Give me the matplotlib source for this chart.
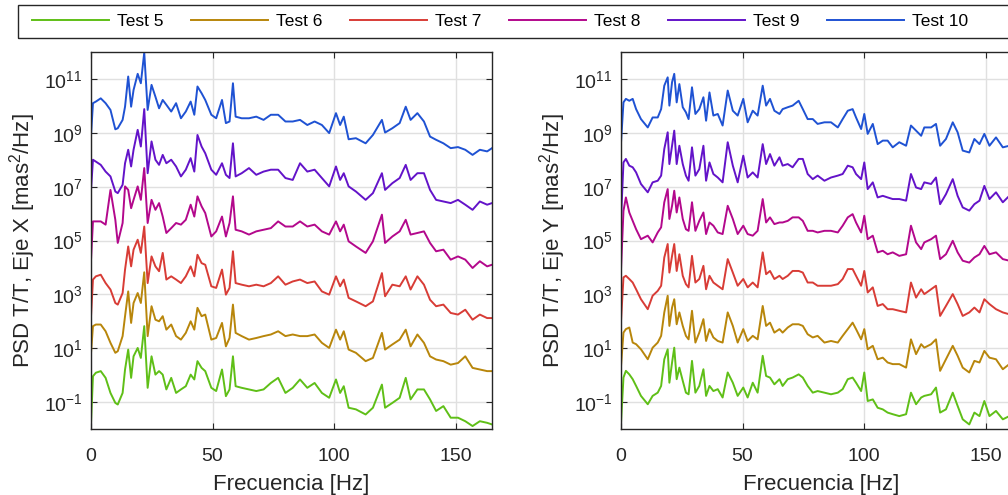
import numpy as np
import matplotlib
matplotlib.use("Agg")
import matplotlib.pyplot as plt
from matplotlib.patches import Rectangle

plt.rcParams["font.family"] = ["Liberation Sans", "DejaVu Sans"]
plt.rcParams["mathtext.fontset"] = "custom"
plt.rcParams["mathtext.rm"] = "Liberation Sans"
plt.rcParams["mathtext.default"] = "regular"

# Frecuencias (Hz) muestreadas de la figura, eje X
freq_x = [0, 0.8, 2, 4, 6, 8, 10, 11, 13, 14,
          15.3, 16.5, 17.5, 19.2, 20.5, 21.9, 23.3, 24.9, 26.5, 28,
          29.5, 31, 33, 35, 37, 39, 41, 42.5, 43.8, 45.5,
          47, 49.5, 51.5, 53.9, 55.5, 57, 58.4, 59.5, 62, 65,
          68, 71, 74, 77, 80, 83, 86, 89, 92, 95,
          98, 100.8, 102.5, 104, 106, 109, 113, 116, 119.7, 121,
          124, 127, 129.5, 131.5, 134.3, 137, 139.5, 142, 145, 148,
          151, 154, 157, 160, 163, 165]

# log10(PSD), eje X
x_test5 = [-1.77, -0.04, 0.09, 0.15, -0.10, -0.66, -1.03, -1.09, -0.66, 0.21,
           0.95, -0.10, 0.70, 1.01, 0.64, 1.82, -0.47, 0.70, 0.02, 0.15,
           0.02, -0.53, -0.10, -0.66, -0.53, -0.41, 0.02, -0.16, 0.52, 0.27,
           0.15, -0.47, -0.59, 0.21, -0.78, -0.53, 0.70, -0.41, -0.47, -0.53,
           -0.59, -0.53, -0.29, -0.10, -0.66, -0.47, -0.16, -0.47, -0.29, -0.66,
           -0.84, -0.16, -0.66, -0.41, -1.21, -1.27, -1.46, -1.21, -0.35, -1.21,
           -1.03, -0.84, -0.10, -0.90, -0.53, -0.53, -0.90, -1.33, -1.15, -1.58,
           -1.58, -1.71, -1.89, -1.71, -1.77, -1.83]
x_test6 = [0.83, 1.82, 1.88, 1.88, 1.63, 1.20, 0.83, 0.89, 1.45, 2.19,
           3.11, 1.94, 2.68, 3.05, 2.68, 3.82, 1.45, 2.56, 2.06, 2.00,
           2.19, 1.69, 1.88, 1.45, 1.32, 1.57, 2.00, 1.69, 2.50, 2.19,
           2.25, 1.32, 1.38, 1.94, 1.07, 1.38, 2.62, 1.57, 1.45, 1.32,
           1.38, 1.45, 1.51, 1.63, 1.45, 1.51, 1.45, 1.45, 1.51, 1.20,
           1.01, 1.69, 1.32, 1.63, 0.95, 0.83, 0.52, 0.64, 1.57, 0.95,
           1.14, 1.32, 1.69, 1.07, 1.51, 1.20, 0.70, 0.58, 0.52, 0.39,
           0.45, 0.70, 0.27, 0.21, 0.15, 0.15]
x_test7 = [2.19, 3.55, 3.67, 3.73, 3.42, 3.18, 2.68, 2.62, 3.05, 3.92,
           4.78, 4.04, 4.66, 5.03, 4.54, 5.52, 3.42, 4.41, 4.04, 3.86,
           4.54, 3.55, 3.67, 3.55, 3.42, 3.67, 4.04, 3.67, 4.47, 4.16,
           4.10, 3.30, 3.24, 3.92, 2.99, 3.24, 4.60, 3.42, 3.36, 3.30,
           3.36, 3.30, 3.42, 3.67, 3.36, 3.48, 3.55, 3.42, 3.48, 3.11,
           2.99, 3.67, 3.30, 3.55, 2.87, 2.74, 2.56, 2.74, 3.79, 2.93,
           3.36, 3.30, 3.67, 3.18, 3.67, 3.36, 2.80, 2.56, 2.62, 2.31,
           2.25, 2.43, 2.06, 2.25, 2.12, 2.12]
x_test8 = [4.29, 5.71, 5.71, 5.71, 5.59, 6.88, 5.77, 4.91, 5.65, 7.01,
           6.88, 6.20, 6.51, 7.01, 6.51, 7.69, 5.65, 6.51, 6.14, 6.39,
           5.89, 5.28, 5.46, 5.65, 5.59, 5.77, 6.33, 5.89, 6.64, 6.27,
           6.02, 5.15, 5.34, 5.89, 5.15, 5.65, 6.64, 5.40, 5.34, 5.22,
           5.34, 5.40, 5.46, 5.71, 5.52, 5.52, 5.71, 5.52, 5.59, 5.34,
           5.22, 5.71, 5.34, 5.59, 4.97, 4.78, 4.54, 4.97, 5.96, 4.91,
           5.15, 5.34, 5.77, 5.22, 5.28, 5.34, 4.91, 4.60, 4.66, 4.29,
           4.41, 4.29, 3.98, 4.23, 4.04, 4.10]
x_test9 = [6.88, 8.00, 7.93, 7.81, 7.56, 7.38, 6.82, 6.76, 7.07, 7.87,
           8.37, 7.75, 8.37, 9.11, 8.49, 9.88, 7.50, 8.68, 8.00, 7.81,
           8.18, 7.87, 8.00, 7.75, 7.38, 7.63, 8.06, 7.56, 8.92, 8.49,
           8.24, 7.63, 7.44, 7.87, 7.44, 7.32, 8.61, 7.38, 7.50, 7.69,
           7.44, 7.56, 7.63, 7.63, 7.32, 7.25, 7.87, 7.56, 7.63, 7.32,
           7.01, 7.75, 7.25, 7.50, 7.01, 6.82, 6.51, 6.76, 7.50, 6.88,
           7.13, 7.32, 7.81, 7.25, 7.50, 7.50, 6.88, 6.51, 6.45, 6.39,
           6.51, 6.33, 6.14, 6.45, 6.33, 6.39]
x_test10 = [8.92, 10.10, 10.16, 10.28, 10.10, 9.85, 9.13, 9.17, 9.48, 9.97,
            11.09, 9.97, 10.59, 11.19, 10.84, 11.98, 9.85, 10.78, 10.34, 9.91,
            10.22, 10.04, 9.79, 10.10, 9.54, 9.79, 10.16, 9.67, 10.72, 10.47,
            10.22, 9.67, 9.54, 10.22, 9.36, 9.42, 10.84, 9.60, 9.54, 9.54,
            9.60, 9.48, 9.67, 9.67, 9.42, 9.42, 9.48, 9.29, 9.42, 9.29,
            8.99, 9.73, 9.29, 9.60, 8.76, 8.80, 8.61, 8.92, 9.48, 9.01,
            9.17, 9.36, 9.97, 9.48, 9.73, 9.42, 8.86, 8.74, 8.61, 8.43,
            8.47, 8.37, 8.18, 8.37, 8.31, 8.43]

# Frecuencias (Hz), eje Y
freq_y = [0, 1, 2, 3.4, 4.8, 6.2, 8.2, 11, 13, 15.1,
          16.5, 17.8, 19.2, 19.9, 21, 21.9, 22.9, 24, 25.4, 26.7,
          27.8, 29.2, 30.6, 32.2, 33.9, 35, 36.4, 38, 39.8, 41.8,
          43.9, 46, 48, 50.3, 52.1, 54.2, 56.2, 58.3, 59.7, 61.3,
          63.1, 65.2, 66.5, 68.6, 70.6, 73.1, 74.8, 76.8, 78.9, 80.9,
          83.7, 86.4, 89.2, 91.2, 93.3, 95.3, 96.7, 98.8, 100.1, 101.5,
          103.6, 105.6, 107.7, 109.7, 111.8, 114.5, 117.3, 119.3, 121.4, 123.5,
          124.8, 127.6, 129.6, 131.3, 133.7, 136.5, 138.5, 140.6, 143.3, 145.4,
          147.5, 149.5, 151.6, 154.3, 157.1, 159.8, 165]

y_test5 = [-1.76, -0.09, 0.16, 0.03, -0.15, -0.40, -0.77, -1.08, -0.77, -0.65,
           -0.40, 0.59, 0.96, -0.28, 0.47, 1.02, -0.15, 0.28, -0.21, -0.65,
           -0.71, 0.53, -0.65, -0.40, 0.22, -0.77, -0.40, -0.59, -0.52, -0.83,
           0.10, -0.28, -0.77, -0.46, -0.83, -0.28, -0.65, 0.72, -0.03, -0.09,
           -0.34, -0.15, -0.40, -0.15, -0.09, 0.03, -0.09, -0.40, -0.65, -0.59,
           -0.65, -0.71, -0.65, -0.52, -0.15, -0.09, -0.28, -0.59, 0.10, -0.96,
           -0.90, -1.21, -1.27, -1.39, -1.45, -1.52, -1.45, -0.65, -1.08, -0.83,
           -0.77, -0.71, -0.46, -1.39, -1.27, -0.65, -1.14, -1.64, -1.83, -1.39,
           -1.52, -0.96, -1.52, -1.33, -1.64, -1.52, -1.58]
y_test6 = [0.34, 1.58, 1.71, 1.77, 1.21, 1.15, 0.96, 0.59, 1.02, 1.21,
           1.46, 2.33, 2.95, 1.83, 2.51, 2.82, 1.89, 2.33, 1.83, 1.46,
           1.33, 2.39, 1.21, 1.58, 2.08, 1.27, 1.71, 1.40, 1.27, 1.21,
           2.33, 1.83, 1.21, 1.71, 1.27, 1.46, 1.33, 2.57, 1.83, 1.95,
           1.58, 1.71, 1.58, 1.77, 1.89, 1.89, 1.83, 1.52, 1.40, 1.46,
           1.21, 1.27, 1.21, 1.46, 1.71, 1.95, 1.71, 1.33, 1.71, 0.96,
           1.09, 0.59, 0.65, 0.47, 0.41, 0.41, 0.28, 1.33, 0.78, 1.15,
           1.02, 1.15, 1.33, 0.16, 0.59, 1.09, 0.72, 0.28, 0.10, 0.53,
           0.47, 0.90, 0.65, 0.59, 0.22, 0.41, 0.34]
y_test7 = [2.02, 3.63, 3.69, 3.57, 3.44, 3.19, 2.82, 2.45, 2.95, 3.13,
           3.32, 4.37, 4.87, 3.81, 4.43, 4.87, 3.87, 4.49, 3.69, 3.38,
           3.26, 4.43, 3.44, 3.57, 4.06, 3.19, 3.69, 3.44, 3.32, 3.19,
           4.31, 3.81, 3.32, 3.57, 3.26, 3.44, 3.26, 4.56, 3.75, 3.87,
           3.57, 3.69, 3.57, 3.69, 3.87, 3.87, 3.81, 3.44, 3.44, 3.32,
           3.32, 3.32, 3.38, 3.57, 3.94, 3.94, 3.69, 3.32, 3.87, 3.07,
           3.26, 2.57, 2.64, 2.45, 2.45, 2.39, 2.33, 3.44, 2.88, 3.19,
           3.01, 3.19, 3.32, 2.20, 2.57, 3.01, 2.64, 2.20, 2.33, 2.51,
           2.33, 2.82, 2.64, 2.45, 2.33, 2.26, 2.26]
y_test8 = [3.94, 6.10, 6.60, 6.04, 5.73, 5.42, 5.05, 5.18, 4.93, 5.30,
           5.49, 6.42, 6.91, 5.80, 6.29, 6.85, 6.04, 6.60, 5.80, 5.42,
           5.36, 6.42, 5.36, 5.73, 6.04, 5.24, 5.67, 5.55, 5.30, 5.24,
           6.29, 5.80, 5.24, 5.55, 5.24, 5.18, 5.36, 6.54, 5.67, 5.86,
           5.61, 5.67, 5.67, 5.73, 5.86, 5.86, 5.73, 5.36, 5.36, 5.30,
           5.36, 5.36, 5.30, 5.55, 5.86, 5.98, 5.67, 5.30, 5.92, 5.05,
           5.18, 4.56, 4.62, 4.49, 4.56, 4.43, 4.49, 5.55, 4.93, 4.68,
           4.93, 5.05, 5.18, 4.31, 4.49, 4.99, 4.56, 4.25, 4.18, 4.37,
           4.49, 4.80, 4.49, 4.56, 4.31, 4.25, 4.25]
y_test9 = [5.80, 7.90, 8.03, 7.78, 7.72, 7.53, 7.10, 6.79, 7.16, 7.22,
           7.41, 8.40, 9.02, 7.84, 8.52, 9.08, 7.84, 8.52, 7.84, 7.41,
           7.22, 8.46, 7.41, 7.65, 8.52, 7.22, 7.90, 7.47, 7.34, 7.16,
           8.65, 7.78, 7.16, 8.15, 7.34, 7.53, 7.34, 8.58, 7.84, 8.21,
           7.78, 8.09, 7.78, 7.84, 7.72, 8.03, 8.03, 7.47, 7.28, 7.41,
           7.22, 7.34, 7.41, 7.47, 7.78, 7.72, 7.47, 7.28, 7.90, 6.91,
           7.16, 6.60, 6.66, 6.60, 6.54, 6.54, 6.48, 7.47, 6.97, 6.91,
           7.16, 7.10, 7.34, 6.35, 6.72, 7.28, 6.66, 6.23, 6.11, 6.35,
           6.48, 7.03, 6.54, 6.79, 6.42, 6.66, 6.54]
y_test10 = [8.65, 10.13, 10.26, 10.19, 10.26, 9.88, 9.51, 9.20, 9.57, 9.57,
            9.88, 10.75, 11.06, 10.01, 10.88, 11.19, 10.13, 10.81, 9.95, 9.76,
            9.51, 10.69, 9.70, 9.88, 10.32, 9.45, 10.50, 9.64, 9.70, 9.27,
            10.57, 9.82, 9.64, 10.26, 9.39, 9.82, 9.64, 10.75, 10.01, 10.26,
            9.82, 9.70, 9.88, 9.95, 10.01, 10.19, 9.88, 9.51, 9.51, 9.33,
            9.39, 9.39, 9.20, 9.51, 9.82, 9.88, 9.57, 9.14, 9.70, 8.96,
            9.33, 8.58, 8.71, 8.71, 8.46, 8.65, 8.52, 9.27, 9.08, 8.89,
            9.20, 9.20, 9.33, 8.52, 8.77, 9.39, 9.02, 8.34, 8.27, 8.77,
            8.58, 8.96, 8.52, 8.83, 8.46, 8.52, 8.52]

labels = ["Test 5", "Test 6", "Test 7", "Test 8", "Test 9", "Test 10"]
colors = ["#5fbf17", "#b8860b", "#d83c36", "#b3088c", "#6313c9", "#1f52d3"]
ytick_exp = [-1, 1, 3, 5, 7, 9, 11]
xticks = [0, 50, 100, 150]


def style_axis(ax, ylabel):
    ax.set_yscale("log")
    ax.set_xlim(0, 165)
    ax.set_ylim(1e-2, 1e12)
    ax.set_xticks(xticks)
    ax.set_yticks([10.0 ** e for e in ytick_exp])
    ax.set_yticklabels([r"$10^{%d}$" % e for e in ytick_exp])
    ax.minorticks_off()
    ax.tick_params(axis="both", which="major", direction="in", length=4,
                   width=0.8, top=True, right=True, labelsize=14,
                   colors="#262626")
    ax.tick_params(axis="x", pad=14)
    ax.tick_params(axis="y", pad=6)
    ax.grid(True, color="#e0e0e0", lw=1.0)
    ax.set_axisbelow(True)
    for sp in ax.spines.values():
        sp.set_color("#262626")
        sp.set_linewidth(1.0)
    ax.set_xlabel("Frecuencia [Hz]", fontsize=16, color="#262626", labelpad=6)
    ax.set_ylabel(ylabel, fontsize=16, color="#262626", labelpad=4)


fig = plt.figure(figsize=(10.08, 4.95), dpi=100)
ax1 = fig.add_axes([0.0903, 0.1333, 0.3978, 0.7616])
ax2 = fig.add_axes([0.6161, 0.1333, 0.3978, 0.7616])

series_x = [x_test5, x_test6, x_test7, x_test8, x_test9, x_test10]
series_y = [y_test5, y_test6, y_test7, y_test8, y_test9, y_test10]

handles = []
for vals, c, lab in zip(series_x, colors, labels):
    h, = ax1.plot(freq_x, 10.0 ** np.array(vals), color=c, lw=1.4, label=lab)
    handles.append(h)
for vals, c in zip(series_y, colors):
    ax2.plot(freq_y, 10.0 ** np.array(vals), color=c, lw=1.4)

style_axis(ax1, r"PSD T/T, Eje X [mas$^2$/Hz]")
style_axis(ax2, r"PSD T/T, Eje Y [mas$^2$/Hz]")

# recuadro de la leyenda (se corta en el borde derecho como el original)
fig.patches.append(Rectangle((18 / 1008, 1 - 38 / 495), 1.0, 33 / 495,
                             transform=fig.transFigure, fill=False,
                             ec="#262626", lw=1.0))
fig.legend(handles=handles, loc="center left", ncol=6, frameon=False,
           bbox_to_anchor=(32 / 1008, 1 - 21.5 / 495), borderaxespad=0,
           borderpad=0, fontsize=12.5, handlelength=4.43,
           handletextpad=0.46, columnspacing=1.6)

fig.savefig("out.png", dpi=100)
